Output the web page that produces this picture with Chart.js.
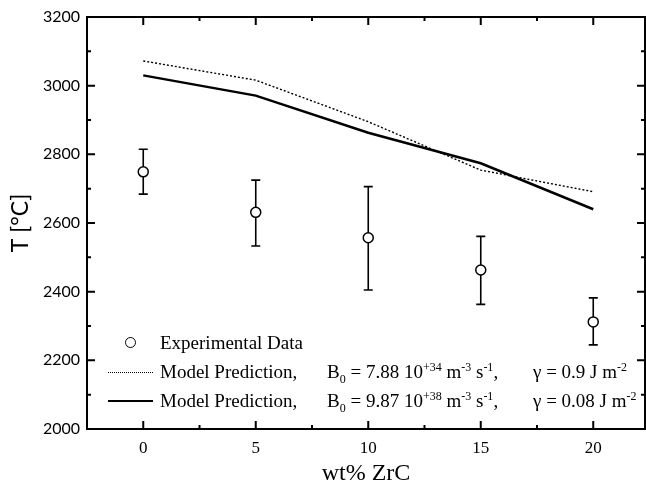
<!DOCTYPE html>
<html>
<head>
<meta charset="utf-8">
<script src="https://cdn.jsdelivr.net/npm/chart.js@4.4.1/dist/chart.umd.min.js"></script>
<style>
  html, body { margin: 0; padding: 0; background: #fff; }
  #wrap { position: relative; width: 646px; height: 490px; }
  #legend { position: absolute; left: 0; top: 0; width: 646px; height: 490px; pointer-events: none;
            font-family: "Liberation Serif", "Times New Roman", serif; font-size: 19px; color: #000; }
  #legend .t { position: absolute; white-space: nowrap; line-height: 1; }
  #legend sup, #legend sub { font-size: 12px; line-height: 0; }
  #legend sup { vertical-align: 7px; }
  #legend sub { vertical-align: -5px; }
</style>
</head>
<body>
<div id="wrap">
  <canvas id="zrcChart" width="646" height="490"></canvas>
  <div id="legend"></div>
</div>
<script>
// data
const wtZrC = [0, 5, 10, 15, 20];
const expT = [2749, 2631, 2557, 2463, 2312];
const expHigh = [2815, 2725, 2706, 2561, 2382];
const expLow = [2684, 2533, 2405, 2363, 2245];
const modelA = [3072, 3016, 2895, 2754, 2691];   // dotted
const modelB = [3030, 2971, 2863, 2774, 2640];   // solid
const xTicks = [0, 5, 10, 15, 20];
const xMinor = [-2.5, 2.5, 7.5, 12.5, 17.5, 22.5];
const yTicks = [2000, 2200, 2400, 2600, 2800, 3000, 3200];
const yMinor = [2100, 2300, 2500, 2700, 2900, 3100];

const legendRows = [
  { mark: 'circle', text: 'Experimental Data' },
  { mark: 'dotted', text: 'Model Prediction,', b: 'B<sub>0</sub> = 7.88 10<sup>+34</sup> m<sup>-3</sup> s<sup>-1</sup>,', g: '\u03b3 = 0.9 J m<sup>-2</sup>' },
  { mark: 'solid', text: 'Model Prediction,', b: 'B<sub>0</sub> = 9.87 10<sup>+38</sup> m<sup>-3</sup> s<sup>-1</sup>,', g: '\u03b3 = 0.08 J m<sup>-2</sup>' }
];

function pts(ys) {
  return wtZrC.map((x, i) => ({ x: x, y: ys[i] }));
}

// error bars behind the circles
const errorBars = {
  id: 'errorBars',
  beforeDatasetsDraw(chart) {
    const ctx = chart.ctx, xs = chart.scales.x, ys = chart.scales.y;
    ctx.save();
    ctx.strokeStyle = '#000';
    ctx.lineWidth = 1.6;
    for (let i = 0; i < wtZrC.length; i++) {
      const px = xs.getPixelForValue(wtZrC[i]);
      const hi = ys.getPixelForValue(expHigh[i]);
      const lo = ys.getPixelForValue(expLow[i]);
      ctx.beginPath();
      ctx.moveTo(px, hi); ctx.lineTo(px, lo);
      ctx.moveTo(px - 4.5, hi); ctx.lineTo(px + 4.5, hi);
      ctx.moveTo(px - 4.5, lo); ctx.lineTo(px + 4.5, lo);
      ctx.stroke();
    }
    ctx.restore();
  }
};

// box frame with inward ticks on all four sides
const frame = {
  id: 'frame',
  afterDraw(chart) {
    const ctx = chart.ctx, a = chart.chartArea, xs = chart.scales.x, ys = chart.scales.y;
    ctx.save();
    ctx.strokeStyle = '#000';
    ctx.lineWidth = 2;
    ctx.strokeRect(a.left, a.top, a.right - a.left, a.bottom - a.top);
    ctx.beginPath();
    const tx = (v, len) => {
      const p = xs.getPixelForValue(v);
      if (p < a.left || p > a.right) return;
      ctx.moveTo(p, a.bottom); ctx.lineTo(p, a.bottom - len);
      ctx.moveTo(p, a.top); ctx.lineTo(p, a.top + len);
    };
    const ty = (v, len) => {
      const p = ys.getPixelForValue(v);
      ctx.moveTo(a.left, p); ctx.lineTo(a.left + len, p);
      ctx.moveTo(a.right, p); ctx.lineTo(a.right - len, p);
    };
    xTicks.forEach(v => tx(v, 8));
    xMinor.forEach(v => tx(v, 4));
    yTicks.forEach(v => ty(v, 8));
    yMinor.forEach(v => ty(v, 4));
    ctx.stroke();
    ctx.restore();
  }
};

const ctx = document.getElementById('zrcChart').getContext('2d');
const myChart = new Chart(ctx, {
  type: 'scatter',
  data: {
    datasets: [
      {
        label: 'Experimental Data',
        data: pts(expT),
        showLine: false,
        pointStyle: 'circle',
        pointRadius: 5,
        pointBorderWidth: 1.5,
        pointBackgroundColor: '#fff',
        pointBorderColor: '#000'
      },
      {
        label: 'Model Prediction A',
        data: pts(modelA),
        showLine: true,
        borderColor: '#000',
        borderWidth: 1.4,
        borderDash: [2, 2],
        pointRadius: 0
      },
      {
        label: 'Model Prediction B',
        data: pts(modelB),
        showLine: true,
        borderColor: '#000',
        borderWidth: 2.5,
        pointRadius: 0
      }
    ]
  },
  options: {
    responsive: false,
    animation: false,
    layout: { autoPadding: false, padding: { left: 0, right: 1, top: 17, bottom: 0 } },
    plugins: { legend: { display: false }, tooltip: { enabled: false } },
    scales: {
      x: {
        type: 'linear',
        min: -2.5,
        max: 22.3,
        afterBuildTicks: s => { s.ticks = xTicks.map(v => ({ value: v })); },
        afterFit: s => { s.height = 61; s.paddingLeft = 0; s.paddingRight = 0; },
        grid: { display: false, drawTicks: false },
        border: { display: false },
        ticks: { color: '#000', padding: 9, font: { family: 'Liberation Serif', size: 17 } },
        title: { display: true, text: 'wt% ZrC', color: '#000', padding: { top: 0, bottom: 2 },
                 font: { family: 'Liberation Serif', size: 24 } }
      },
      y: {
        min: 2000,
        max: 3200,
        afterBuildTicks: s => { s.ticks = yTicks.map(v => ({ value: v })); },
        afterFit: s => { s.width = 87; s.paddingTop = 0; s.paddingBottom = 0; },
        grid: { display: false, drawTicks: false },
        border: { display: false },
        ticks: { color: '#000', padding: 7, font: { family: 'Lato', size: 16 }, callback: v => String(v) },
        title: { display: true, text: 'T [\u00b0C]', color: '#000', padding: { top: 7, bottom: 0 },
                 font: { family: 'Lato', size: 23 } }
      }
    }
  },
  plugins: [errorBars, frame]
});

// legend inside the plot, html so the super/subscripts are real text
const lg = document.getElementById('legend');
const rowY = [343, 372, 401];
legendRows.forEach((r, i) => {
  const y = rowY[i];
  let mark;
  if (r.mark === 'circle') {
    mark = '<div style="position:absolute;left:125px;top:' + (y - 6) + 'px;width:9px;height:9px;border:1.5px solid #000;border-radius:50%;"></div>';
  } else if (r.mark === 'dotted') {
    mark = '<div style="position:absolute;left:108px;top:' + (y) + 'px;width:45px;height:0;border-top:1.3px dotted #000;"></div>';
  } else {
    mark = '<div style="position:absolute;left:108px;top:' + (y - 1) + 'px;width:45px;height:0;border-top:2.5px solid #000;"></div>';
  }
  let html = mark + '<span class="t" style="left:160px;top:' + (y - 10) + 'px;">' + r.text + '</span>';
  if (r.b) html += '<span class="t" style="left:327px;top:' + (y - 10) + 'px;">' + r.b + '</span>';
  if (r.g) html += '<span class="t" style="left:533px;top:' + (y - 10) + 'px;">' + r.g + '</span>';
  lg.insertAdjacentHTML('beforeend', html);
});
</script>
</body>
</html>
